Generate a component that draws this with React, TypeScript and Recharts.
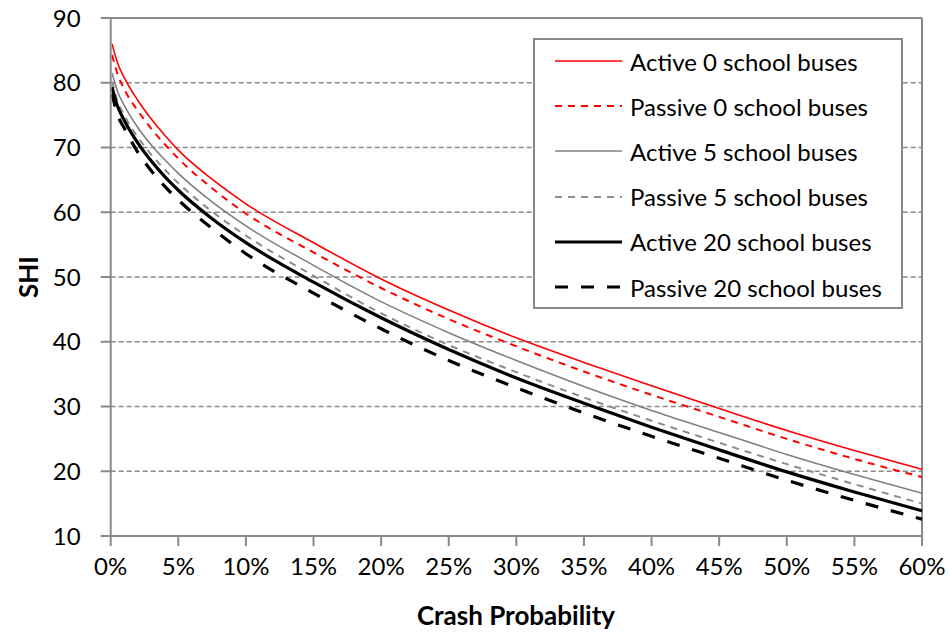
import {
  LineChart,
  Line,
  XAxis,
  YAxis,
  CartesianGrid,
  ReferenceLine,
  Legend,
} from 'recharts';

// crash probability (fraction) at which each curve was read
const PROB = [0.001, 0.005, 0.01, 0.02, 0.03, 0.04, 0.05, 0.075, 0.1, 0.15, 0.2, 0.25, 0.3, 0.35, 0.4, 0.45, 0.5, 0.55, 0.6];

const ACTIVE_0 = [86.0, 83.1, 80.8, 77.3, 74.4, 71.9, 69.6, 65.1, 61.3, 55.3, 49.7, 44.9, 40.6, 36.8, 33.2, 29.7, 26.3, 23.2, 20.3];
const PASSIVE_0 = [84.3, 81.4, 79.0, 75.7, 72.9, 70.5, 68.3, 63.7, 59.8, 53.8, 48.3, 43.5, 39.3, 35.4, 31.8, 28.4, 25.0, 21.9, 19.1];
const ACTIVE_5 = [81.5, 78.7, 76.5, 73.1, 70.4, 68.1, 66.0, 61.6, 57.9, 51.8, 46.2, 41.4, 37.1, 33.1, 29.4, 26.0, 22.6, 19.5, 16.6];
const PASSIVE_5 = [80.2, 77.2, 75.0, 71.6, 68.9, 66.6, 64.5, 60.1, 56.4, 50.2, 44.4, 39.5, 35.3, 31.4, 27.8, 24.4, 21.1, 18.0, 15.0];
const ACTIVE_20 = [79.3, 76.4, 74.2, 70.7, 67.9, 65.5, 63.4, 59.0, 55.3, 49.2, 43.7, 38.8, 34.4, 30.5, 26.8, 23.3, 19.9, 16.8, 13.9];
const PASSIVE_20 = [78.3, 75.1, 73.0, 69.3, 66.4, 64.0, 61.9, 57.5, 53.6, 47.5, 42.0, 37.1, 32.9, 29.0, 25.4, 22.0, 18.6, 15.5, 12.6];

const X_TICKS = [0, 0.05, 0.1, 0.15, 0.2, 0.25, 0.3, 0.35, 0.4, 0.45, 0.5, 0.55, 0.6];
const Y_TICKS = [10, 20, 30, 40, 50, 60, 70, 80, 90];

const FONT = 'Lato, "Open Sans", sans-serif';
const AXIS_GRAY = '#898989';

const SERIES = [
  { key: 'a0', name: 'Active 0 school buses', values: ACTIVE_0, color: '#ff0000', width: 1.6, dash: undefined },
  { key: 'p0', name: 'Passive 0 school buses', values: PASSIVE_0, color: '#ff0000', width: 2, dash: '7 6' },
  { key: 'a5', name: 'Active 5 school buses', values: ACTIVE_5, color: '#808080', width: 1.6, dash: undefined },
  { key: 'p5', name: 'Passive 5 school buses', values: PASSIVE_5, color: '#8c8c8c', width: 2, dash: '7 6' },
  { key: 'a20', name: 'Active 20 school buses', values: ACTIVE_20, color: '#000000', width: 3.2, dash: undefined },
  { key: 'p20', name: 'Passive 20 school buses', values: PASSIVE_20, color: '#000000', width: 3.2, dash: '13 13' },
];

const data = PROB.map((p, i) => {
  const row: Record<string, number> = { p };
  SERIES.forEach((s) => {
    row[s.key] = s.values[i];
  });
  return row;
});

function pct(v: number) {
  return `${Math.round(v * 100)}%`;
}

function LegendBox() {
  return (
    <div
      style={{
        boxSizing: 'border-box',
        width: 370,
        height: 271,
        border: `2px solid ${AXIS_GRAY}`,
        background: '#fff',
        fontFamily: FONT,
        fontSize: 24,
        color: '#000',
        overflow: 'hidden',
      }}
    >
      <div style={{ marginTop: -1.5 }}>
        {SERIES.map((s) => (
          <div key={s.key} style={{ display: 'flex', alignItems: 'center', height: 45.2 }}>
            <svg width={67} height={10} style={{ marginLeft: 20, marginRight: 8 }}>
              <line
                x1={0}
                y1={5}
                x2={67}
                y2={5}
                stroke={s.color}
                strokeWidth={s.width}
                strokeDasharray={s.dash}
              />
            </svg>
            <span>{s.name}</span>
          </div>
        ))}
      </div>
    </div>
  );
}

export default function App() {
  return (
    <div style={{ position: 'absolute', left: 0, top: 0, background: '#fff' }}>
      <LineChart
        width={949}
        height={632}
        data={data}
        margin={{ top: 18, right: 27, bottom: 10, left: 10 }}
      >
        <CartesianGrid
          vertical={false}
          stroke={AXIS_GRAY}
          strokeDasharray="5 3"
          strokeWidth={1.3}
        />
        <XAxis
          dataKey="p"
          type="number"
          domain={[0, 0.6]}
          ticks={X_TICKS}
          tickFormatter={pct}
          stroke={AXIS_GRAY}
          strokeWidth={2}
          tickSize={10}
          tickMargin={12}
          height={86}
          tick={{ fill: '#000', fontSize: 24, fontFamily: FONT }}
          label={() => (
            <text
              x={516}
              y={625}
              textAnchor="middle"
              fontFamily={FONT}
              fontSize={26}
              fontWeight="bold"
              fill="#000"
            >
              Crash Probability
            </text>
          )}
        />
        <YAxis
          type="number"
          domain={[10, 90]}
          ticks={Y_TICKS}
          stroke={AXIS_GRAY}
          strokeWidth={2}
          tickSize={10}
          tickMargin={20}
          width={100.7}
          tick={{ fill: '#000', fontSize: 24, fontFamily: FONT }}
          label={() => (
            <text
              x={38}
              y={277}
              transform="rotate(-90 38 277)"
              textAnchor="middle"
              fontFamily={FONT}
              fontSize={26}
              fontWeight="bold"
              fill="#000"
            >
              SHI
            </text>
          )}
        />
        <ReferenceLine y={90} stroke={AXIS_GRAY} strokeWidth={2} />
        <ReferenceLine x={0.6} stroke={AXIS_GRAY} strokeWidth={2} />
        {SERIES.map((s) => (
          <Line
            key={s.key}
            dataKey={s.key}
            name={s.name}
            type="monotone"
            stroke={s.color}
            strokeWidth={s.width}
            strokeDasharray={s.dash}
            dot={false}
            activeDot={false}
            isAnimationActive={false}
          />
        ))}
        <Legend
          layout="vertical"
          align="center"
          verticalAlign="middle"
          content={() => <LegendBox />}
          wrapperStyle={{ left: 533, top: 38, width: 370, height: 271 }}
        />
      </LineChart>
    </div>
  );
}
